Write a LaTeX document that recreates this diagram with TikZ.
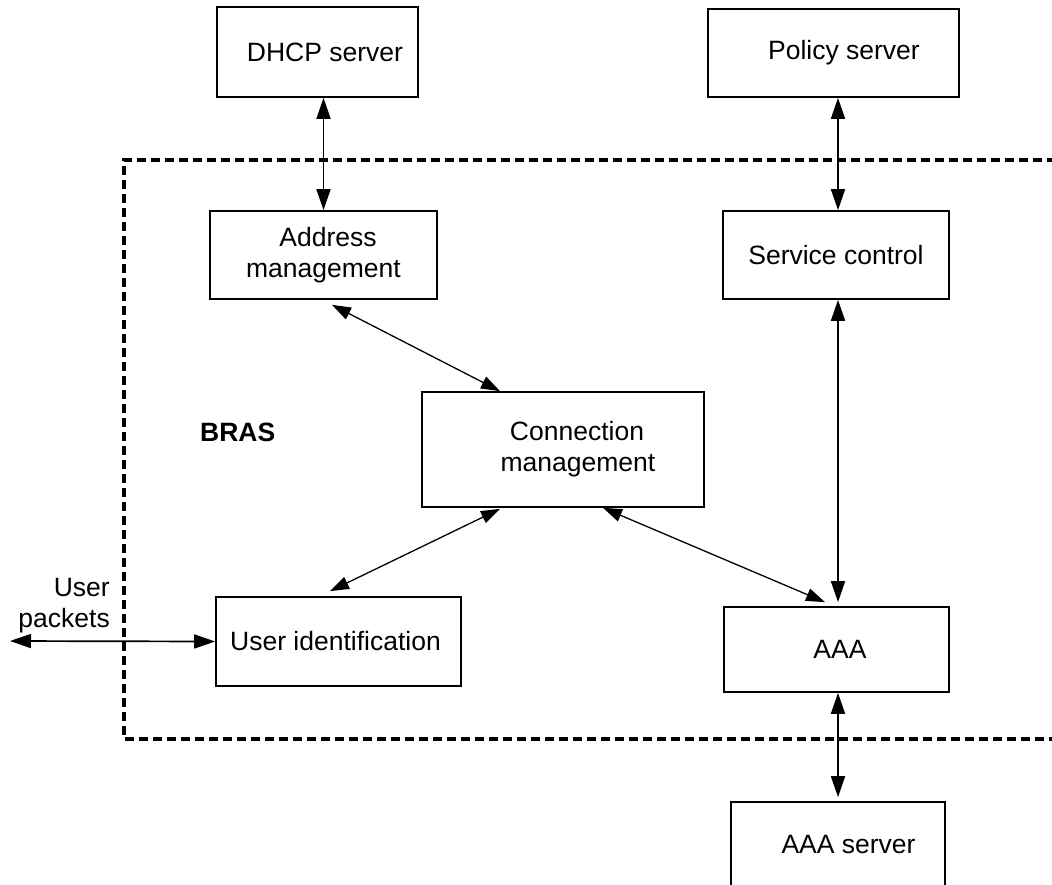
\documentclass[tikz,border=0pt]{standalone}
\usepackage{fontspec}
\setmainfont{Liberation Sans}
\usetikzlibrary{arrows.meta,calc}
\newcommand\diagfont{\fontsize{26.5}{31}\selectfont}
\begin{document}
\begin{tikzpicture}[x=1pt,y=-1pt,
  box/.style={draw, line width=1.7pt, font=\diagfont, align=center, inner sep=0pt},
  biarrow/.style={line width=1.7pt, {Triangle[length=21pt,width=14pt]}-{Triangle[length=21pt,width=14pt]}},
  diagarrow/.style={line width=1.3pt, {Triangle[length=19pt,width=13pt]}-{Triangle[length=19pt,width=13pt]}},
  frame/.style={draw, line width=3.2pt, dash pattern=on 9pt off 5pt}]
\useasboundingbox (0,0) rectangle (1052,884);

% BRAS boundary
\draw[frame] (1070,160) -- (124,160) -- (124,739) -- (1070,739);
\node[font=\diagfont\bfseries, anchor=base west, inner sep=0pt] (bras) at (200,441) {BRAS};

% boxes
\node[box, minimum width=201pt, minimum height=90pt] (dhcp) at (317.5,52) {\hspace*{15pt}DHCP server};
\node[box, minimum width=251pt, minimum height=88pt] (pol) at (833.5,53) {\hspace*{21pt}Policy server};
\node[box, minimum width=227pt, minimum height=88pt] (addr) at (323.5,255) {\hspace*{9pt}Address\\management};
\node[box, minimum width=226pt, minimum height=88pt] (svc) at (836,255) {Service control};
\node[box, minimum width=282pt, minimum height=115pt] (conn) at (563,449.5) {\hspace*{28pt}Connection\\\hspace*{30pt}management};
\node[box, minimum width=245pt, minimum height=89pt] (uid) at (338.5,641.5) {User identification\hspace*{6pt}};
\node[box, minimum width=225pt, minimum height=85pt] (aaa) at (836.5,649.5) {\hspace*{7pt}AAA};
\node[box, minimum width=214pt, minimum height=84pt] (aaas) at (838,844) {\hspace*{21pt}AAA server};

% user packets
\coordinate (up) at (10,641);
\node[font=\diagfont, align=right, inner sep=0pt, anchor=south east, text depth=0pt] (uplabel) at (110,628)
  {\fontsize{26.5}{26}\selectfont User\\packets};

% connectors
\draw[biarrow] (addr.north |- dhcp.south) -- (addr.north);
\draw[biarrow] ([xshift=2pt]svc.north |- pol.south) -- ([xshift=2pt]svc.north);
\draw[biarrow] ([xshift=2pt]svc.south) -- ($([xshift=1.5pt]aaa.north)+(0,-4)$);
\draw[biarrow] ([xshift=1.5pt]aaa.south) -- ($(aaas.north)+(0,-4)$);
\draw[diagarrow] ($(addr.south)+(8.5,5)$) -- ($(conn.north)+(-63,0)$);
\draw[diagarrow] ($(conn.south)+(-63,1)$) -- ($(uid.north)+(-8.5,-5)$);
\draw[diagarrow] ($(conn.south)+(40,0)$) -- ($(aaa.north)+(-11.5,-4)$);
\draw[biarrow] (up) -- (uid.west);
\end{tikzpicture}
\end{document}
